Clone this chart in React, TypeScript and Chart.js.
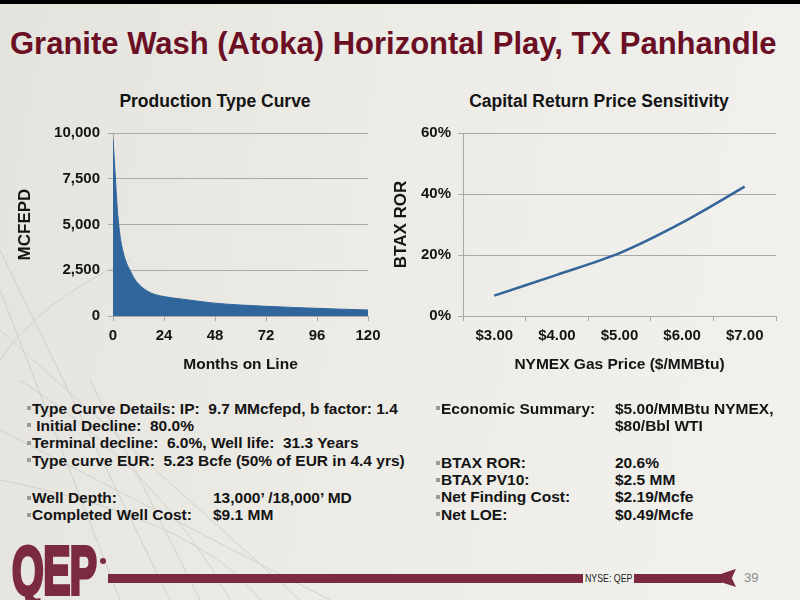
import { useEffect, useRef } from "react"
import { Chart, type ChartConfiguration, registerables } from "chart.js"

Chart.register(...registerables)

// Production type curve
const months = [0, 1, 2, 3, 4, 6, 8, 10, 12, 15, 18, 24, 30, 36, 48, 60, 72, 84, 96, 108, 120]
const mcfepd = [9700, 7800, 5900, 4650, 3900, 3000, 2500, 2050, 1750, 1450, 1250, 1060, 960, 870, 700, 600, 530, 470, 420, 370, 330]
const monthTicks = [0, 24, 48, 72, 96, 120]
const mcfepdTicks = [0, 2500, 5000, 7500, 10000]

// Capital return price sensitivity
const gasPrices = ["$3.00", "$4.00", "$5.00", "$6.00", "$7.00"]
const btaxRor = [6.7, 13.5, 20.6, 30.6, 42.4]
const rorTicks = [0, 20, 40, 60]

const leftBullets = [
  { y: 408, text: "Type Curve Details: IP:  9.7 MMcfepd, b factor: 1.4" },
  { y: 425, text: " Initial Decline:  80.0%" },
  { y: 442.5, text: "Terminal decline:  6.0%, Well life:  31.3 Years" },
  { y: 460, text: "Type curve EUR:  5.23 Bcfe (50% of EUR in 4.4 yrs)" },
  { y: 497.5, text: "Well Depth:", value: "13,000\u2019 /18,000\u2019 MD" },
  { y: 514.5, text: "Completed Well Cost:", value: "$9.1 MM" },
]

const rightBullets = [
  { y: 408, text: "Economic Summary:", value: "$5.00/MMBtu NYMEX," },
  { y: 425, text: "", value: "$80/Bbl WTI" },
  { y: 462.5, text: "BTAX ROR:", value: "20.6%" },
  { y: 479.5, text: "BTAX PV10:", value: "$2.5 MM" },
  { y: 496.5, text: "Net Finding Cost:", value: "$2.19/Mcfe" },
  { y: 514, text: "Net LOE:", value: "$0.49/Mcfe" },
]

const FONT = "'Liberation Sans', Arial, Helvetica, sans-serif"
const MAROON = "#6a0f24"
const LOGO = "#7b2a40"
const TEXT = "#141414"
const GRID = "#a9a9a9"

Chart.defaults.font.family = FONT

function useChart(config: () => ChartConfiguration) {
  const canvasRef = useRef<HTMLCanvasElement>(null)
  const chartRef = useRef<Chart | null>(null)

  useEffect(() => {
    if (!canvasRef.current) return
    const ctx = canvasRef.current.getContext("2d")
    if (!ctx) return
    if (chartRef.current) chartRef.current.destroy()
    chartRef.current = new Chart(ctx, config())
    return () => {
      if (chartRef.current) {
        chartRef.current.destroy()
        chartRef.current = null
      }
    }
  }, [])

  return canvasRef
}

const tickFont = { family: FONT, size: 15, weight: "bold" as const }
const xTitleFont = { family: FONT, size: 15.5, weight: "bold" as const }
const yTitleFont = { family: FONT, size: 17, weight: "bold" as const }

function TypeCurveChart() {
  const ref = useChart(() => ({
    type: "line",
    data: {
      datasets: [
        {
          label: "MCFEPD",
          data: months.map((m, i) => ({ x: m, y: mcfepd[i] })),
          borderColor: "#31669d",
          backgroundColor: "#31669d",
          borderWidth: 1,
          pointRadius: 0,
          fill: "origin",
          cubicInterpolationMode: "monotone",
        },
      ],
    },
    options: {
      animation: false,
      responsive: false,
      maintainAspectRatio: false,
      layout: { padding: { top: 48, right: 22, bottom: 0, left: 0 } },
      plugins: { legend: { display: false }, tooltip: { enabled: false } },
      scales: {
        x: {
          type: "linear",
          min: 0,
          max: 120,
          afterBuildTicks: (s: any) => {
            s.ticks = monthTicks.map((v) => ({ value: v }))
          },
          ticks: { font: tickFont, color: TEXT, padding: 6, maxRotation: 0 },
          grid: { drawOnChartArea: false, tickLength: 5, color: GRID },
          border: { color: GRID },
          title: { display: true, text: "Months on Line", font: xTitleFont, color: TEXT, padding: { top: 4, bottom: 11 } },
          afterFit: (s: any) => {
            s.height = 69
          },
        },
        y: {
          min: 0,
          max: 10000,
          afterBuildTicks: (s: any) => {
            s.ticks = mcfepdTicks.map((v) => ({ value: v }))
          },
          ticks: {
            font: tickFont,
            color: TEXT,
            padding: 8,
            callback: (v: any) => Number(v).toLocaleString("en-US"),
          },
          grid: { color: GRID, tickLength: 5, lineWidth: 1 },
          border: { color: GRID },
          title: { display: true, text: "MCFEPD", font: yTitleFont, color: TEXT, padding: { top: 5, bottom: 0 } },
          afterFit: (s: any) => {
            s.width = 103
          },
        },
      },
    },
  }))

  return <canvas ref={ref} width={380} height={300} style={{ position: "absolute", left: 10, top: 85, width: 380, height: 300 }} />
}

function PriceSensitivityChart() {
  const ref = useChart(() => ({
    type: "line",
    data: {
      labels: gasPrices,
      datasets: [
        {
          label: "BTAX ROR",
          data: btaxRor,
          borderColor: "#34659a",
          borderWidth: 2.5,
          pointRadius: 0,
          fill: false,
          tension: 0.3,
        },
      ],
    },
    options: {
      animation: false,
      responsive: false,
      maintainAspectRatio: false,
      layout: { padding: { top: 48, right: 24, bottom: 0, left: 0 } },
      plugins: { legend: { display: false }, tooltip: { enabled: false } },
      scales: {
        x: {
          type: "category",
          offset: true,
          ticks: { font: tickFont, color: TEXT, padding: 6, maxRotation: 0 },
          grid: { offset: true, drawOnChartArea: false, tickLength: 5, color: GRID },
          border: { color: GRID },
          title: { display: true, text: "NYMEX Gas Price ($/MMBtu)", font: xTitleFont, color: TEXT, padding: { top: 4, bottom: 11 } },
          afterFit: (s: any) => {
            s.height = 69
          },
        },
        y: {
          min: 0,
          max: 60,
          afterBuildTicks: (s: any) => {
            s.ticks = rorTicks.map((v) => ({ value: v }))
          },
          ticks: { font: tickFont, color: TEXT, padding: 7, callback: (v: any) => v + "%" },
          grid: { color: GRID, tickLength: 5 },
          border: { color: GRID },
          title: { display: true, text: "BTAX ROR", font: yTitleFont, color: TEXT, padding: { top: 6, bottom: 0 } },
          afterFit: (s: any) => {
            s.width = 78
          },
        },
      },
    },
  }))

  return <canvas ref={ref} width={415} height={300} style={{ position: "absolute", left: 385, top: 85, width: 415, height: 300 }} />
}

const bulletText: React.CSSProperties = {
  position: "absolute",
  fontFamily: FONT,
  fontWeight: "bold",
  fontSize: 15.5,
  color: TEXT,
  whiteSpace: "pre",
  lineHeight: "17px",
}

function Bullet({ x, y }: { x: number; y: number }) {
  return <div style={{ position: "absolute", left: x, top: y - 2, width: 4, height: 4, background: "#9a9a9a" }} />
}

const chartTitle: React.CSSProperties = {
  position: "absolute",
  top: 90,
  textAlign: "center",
  fontWeight: "bold",
  fontSize: 17.5,
  color: TEXT,
  lineHeight: "22px",
}

export default function App() {
  return (
    <div
      style={{
        position: "absolute",
        left: 0,
        top: 0,
        width: 800,
        height: 600,
        overflow: "hidden",
        background: "linear-gradient(100deg, #e4e3de 0%, #ecebe6 45%, #f2f1ed 100%)",
        fontFamily: FONT,
      }}
    >
      <svg width={800} height={600} style={{ position: "absolute", left: 0, top: 0 }}>
        <g stroke="#c9c8c2" strokeWidth={1} fill="none" opacity={0.7}>
          <path d="M0 250 L170 600" />
          <path d="M0 290 L120 600" />
          <path d="M0 330 L300 600" />
          <path d="M20 380 Q160 470 230 600" />
          <path d="M0 430 L330 600" />
          <path d="M90 380 L200 600" />
          <path d="M0 480 Q200 520 260 600" />
          <path d="M0 360 Q40 300 130 260" />
        </g>
      </svg>
      <div style={{ position: "absolute", left: 0, top: 0, width: 800, height: 4, background: "#000" }} />
      <div
        style={{
          position: "absolute",
          left: 10,
          top: 26,
          fontFamily: FONT,
          fontWeight: "bold",
          fontSize: 31,
          lineHeight: "36px",
          color: MAROON,
          whiteSpace: "nowrap",
        }}
      >
        Granite Wash (Atoka) Horizontal Play, TX Panhandle
      </div>

      <div style={{ ...chartTitle, left: 0, width: 430 }}>Production Type Curve</div>
      <div style={{ ...chartTitle, left: 400, width: 398 }}>Capital Return Price Sensitivity</div>

      <TypeCurveChart />
      <PriceSensitivityChart />

      {leftBullets.map((b, i) => (
        <div key={"l" + i}>
          <Bullet x={27} y={b.y} />
          <div style={{ ...bulletText, left: 32, top: b.y - 8.5 }}>{b.text}</div>
          {b.value && <div style={{ ...bulletText, left: 213, top: b.y - 8.5 }}>{b.value}</div>}
        </div>
      ))}
      {rightBullets.map((b, i) => (
        <div key={"r" + i}>
          {b.text && <Bullet x={436} y={b.y} />}
          {b.text && <div style={{ ...bulletText, left: 441, top: b.y - 8.5 }}>{b.text}</div>}
          <div style={{ ...bulletText, left: 615, top: b.y - 8.5 }}>{b.value}</div>
        </div>
      ))}

      {/* footer */}
      <div
        style={{
          position: "absolute",
          left: 12,
          top: 536,
          fontFamily: FONT,
          fontWeight: "bold",
          fontSize: 68,
          lineHeight: "68px",
          color: LOGO,
          letterSpacing: -1,
          WebkitTextStroke: "4px " + LOGO,
          transform: "scaleX(0.6)",
          transformOrigin: "left",
        }}
      >
        QEP
      </div>
      <div style={{ position: "absolute", left: 100, top: 558, width: 6, height: 6, borderRadius: 3, background: LOGO }} />
      <div style={{ position: "absolute", left: 108, top: 574, width: 475, height: 9, background: LOGO }} />
      <div
        style={{
          position: "absolute",
          left: 585,
          top: 571,
          fontSize: 11,
          lineHeight: "14px",
          color: "#222",
          fontFamily: FONT,
          whiteSpace: "nowrap",
          transform: "scaleX(0.8)",
          transformOrigin: "left",
        }}
      >
        NYSE: QEP
      </div>
      <div style={{ position: "absolute", left: 634, top: 574, width: 88, height: 9, background: LOGO }} />
      <div
        style={{
          position: "absolute",
          left: 722,
          top: 569,
          width: 14,
          height: 18,
          background: LOGO,
          clipPath: "polygon(0 25%, 100% 0, 70% 50%, 100% 100%, 0 75%)",
        }}
      />
      <div style={{ position: "absolute", left: 744, top: 570, fontSize: 13, lineHeight: "16px", color: "#8a8a8a", fontFamily: FONT }}>39</div>
    </div>
  )
}
